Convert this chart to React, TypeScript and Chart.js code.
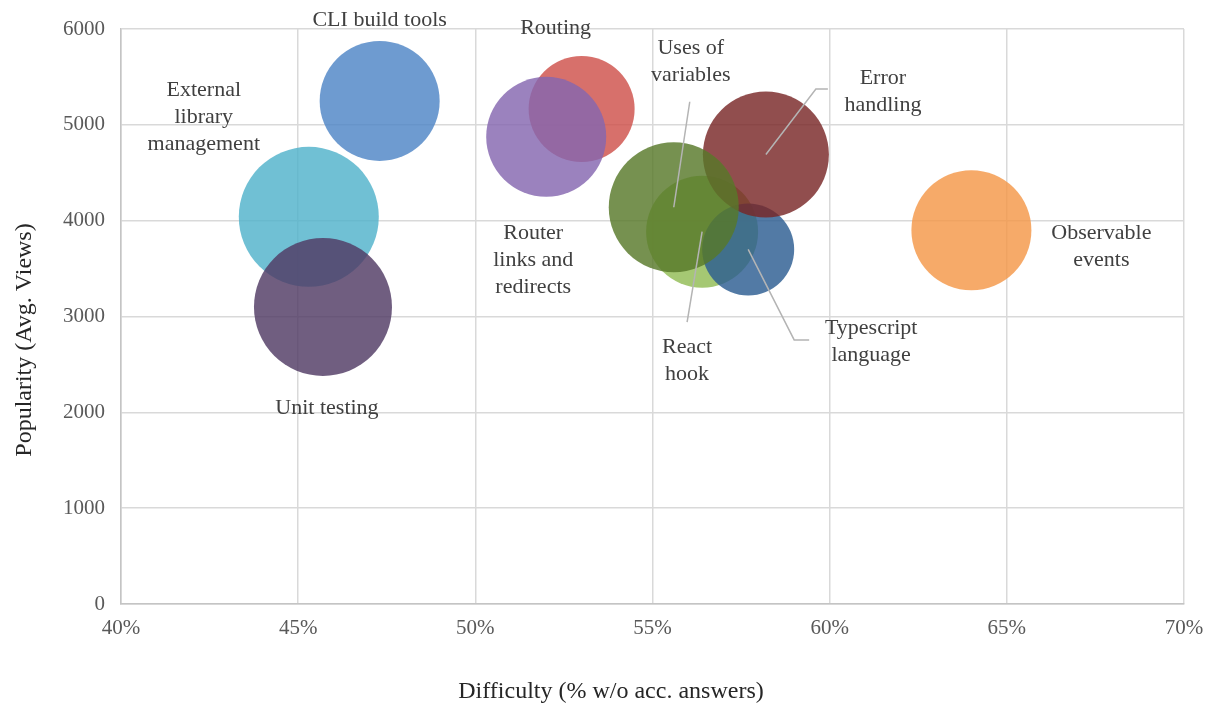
import React, { useEffect, useRef } from "react";
import { Chart, registerables } from "chart.js";

Chart.register(...registerables);

// Topics, listed bottom-to-top in drawing order
const topics = [
  "External library management",
  "Unit testing",
  "CLI build tools",
  "Routing",
  "Router links and redirects",
  "React hook",
  "Typescript language",
  "Error handling",
  "Uses of variables",
  "Observable events",
];

// Difficulty (% of questions without accepted answers)
const difficulty = [45.3, 45.7, 47.3, 53.0, 52.0, 56.4, 57.7, 58.2, 55.6, 64.0];

// Popularity (average views)
const popularity = [4040, 3100, 5250, 5165, 4875, 3885, 3700, 4690, 4140, 3900];

// Bubble size (radius)
const bubbleSize = [70, 69, 60, 53, 60, 56, 46, 63, 65, 60];

// Wrapped label text for each topic
const labelLines = [
  ["External", "library", "management"],
  ["Unit testing"],
  ["CLI build tools"],
  ["Routing"],
  ["Router", "links and", "redirects"],
  ["React", "hook"],
  ["Typescript", "language"],
  ["Error", "handling"],
  ["Uses of", "variables"],
  ["Observable", "events"],
];

const xTicks = [40, 45, 50, 55, 60, 65, 70];
const yTicks = [0, 1000, 2000, 3000, 4000, 5000, 6000];

const xTitle = "Difficulty (% w/o acc. answers)";
const yTitle = "Popularity (Avg. Views)";

// Fill colours per topic (same order as topics)
const fills = [
  "rgba(81,178,203,0.82)",
  "rgba(81,59,100,0.82)",
  "rgba(78,133,198,0.82)",
  "rgba(206,81,75,0.82)",
  "rgba(133,103,176,0.82)",
  "rgba(145,188,84,0.82)",
  "rgba(44,93,145,0.82)",
  "rgba(121,39,39,0.82)",
  "rgba(88,121,42,0.82)",
  "rgba(244,151,72,0.82)",
];

// Label placement relative to the bubble centre (px): text centre of first line,
// and optional leader-line points that run to the bubble centre.
type LabelPlacement = { dx: number; dy: number; leader?: [number, number][] };
const labelPlacement: LabelPlacement[] = [
  { dx: -105, dy: -127 },
  { dx: 4, dy: 101 },
  { dx: 0, dy: -81 },
  { dx: -26, dy: -81 },
  { dx: -13, dy: 96 },
  { dx: -15, dy: 115.5, leader: [[-15, 90.5]] },
  { dx: 123, dy: 78.5, leader: [[61, 90.5], [46, 90.5]] },
  { dx: 117, dy: -76.5, leader: [[62, -65.5], [50, -65.5]] },
  { dx: 17, dy: -159.5, leader: [[16, -105.5]] },
  { dx: 130, dy: 3 },
];

const FONT = "'Liberation Serif', 'Times New Roman', serif";
const LINE_HEIGHT = 27;

const annotationPlugin = {
  id: "bubbleAnnotations",
  afterDatasetsDraw(chart: any) {
    const { ctx, scales } = chart;
    const xs = scales.x;
    const ys = scales.y;
    ctx.save();

    // leader lines
    ctx.strokeStyle = "#b4b4b4";
    ctx.lineWidth = 1.5;
    topics.forEach((_, i) => {
      const p = labelPlacement[i];
      if (!p.leader) return;
      const cx = xs.getPixelForValue(difficulty[i]);
      const cy = ys.getPixelForValue(popularity[i]);
      ctx.beginPath();
      p.leader.forEach(([lx, ly], k) => {
        if (k === 0) ctx.moveTo(cx + lx, cy + ly);
        else ctx.lineTo(cx + lx, cy + ly);
      });
      ctx.lineTo(cx, cy);
      ctx.stroke();
    });

    // data labels
    ctx.fillStyle = "#404040";
    ctx.font = `22px ${FONT}`;
    ctx.textAlign = "center";
    ctx.textBaseline = "middle";
    topics.forEach((_, i) => {
      const p = labelPlacement[i];
      const cx = xs.getPixelForValue(difficulty[i]);
      const cy = ys.getPixelForValue(popularity[i]);
      labelLines[i].forEach((line, k) => {
        ctx.fillText(line, cx + p.dx, cy + p.dy + k * LINE_HEIGHT);
      });
    });

    // axis titles
    ctx.fillStyle = "#262626";
    ctx.font = `24px ${FONT}`;
    ctx.fillText(xTitle, 611, 692);
    ctx.translate(25, 340);
    ctx.rotate(-Math.PI / 2);
    ctx.fillText(yTitle, 0, 0);
    ctx.restore();
  },
};

export default function App() {
  const canvasRef = useRef<HTMLCanvasElement | null>(null);

  useEffect(() => {
    if (!canvasRef.current) return;
    const chart = new Chart(canvasRef.current, {
      type: "bubble",
      data: {
        datasets: [
          {
            label: "Topics",
            data: topics.map((_, i) => ({
              x: difficulty[i],
              y: popularity[i],
              r: bubbleSize[i],
            })),
            backgroundColor: fills,
            borderWidth: 0,
            hoverBorderWidth: 0,
            clip: false,
          },
        ],
      },
      options: {
        animation: false,
        responsive: true,
        maintainAspectRatio: false,
        devicePixelRatio: 1,
        layout: { autoPadding: false, padding: { top: 29, right: 28, left: 0, bottom: 0 } },
        plugins: {
          legend: { display: false },
          tooltip: { enabled: false },
        },
        scales: {
          x: {
            type: "linear",
            min: xTicks[0],
            max: xTicks[xTicks.length - 1],
            afterBuildTicks: (scale: any) => {
              scale.ticks = xTicks.map((v) => ({ value: v }));
            },
            afterFit: (scale: any) => {
              scale.height = 103;
            },
            ticks: {
              padding: 8,
              color: "#595959",
              font: { family: FONT, size: 21, lineHeight: 1.6 },
              callback: (v: any) => `${v}%`,
            },
            grid: { color: "#d9d9d9", lineWidth: 1.5, drawTicks: false },
            border: { color: "#c4c4c4", width: 1.5 },
          },
          y: {
            type: "linear",
            min: yTicks[0],
            max: yTicks[yTicks.length - 1],
            afterBuildTicks: (scale: any) => {
              scale.ticks = yTicks.map((v) => ({ value: v }));
            },
            afterFit: (scale: any) => {
              scale.width = 121;
            },
            ticks: {
              padding: 16,
              color: "#595959",
              font: { family: FONT, size: 21 },
              callback: (v: any) => String(v),
            },
            grid: { color: "#d9d9d9", lineWidth: 1.5, drawTicks: false },
            border: { color: "#c4c4c4", width: 1.5 },
          },
        },
      },
      plugins: [annotationPlugin],
    });
    return () => chart.destroy();
  }, []);

  return (
    <div
      style={{
        position: "fixed",
        left: 0,
        top: 0,
        width: 1212,
        height: 707,
        background: "#ffffff",
      }}
    >
      <canvas ref={canvasRef} />
    </div>
  );
}
